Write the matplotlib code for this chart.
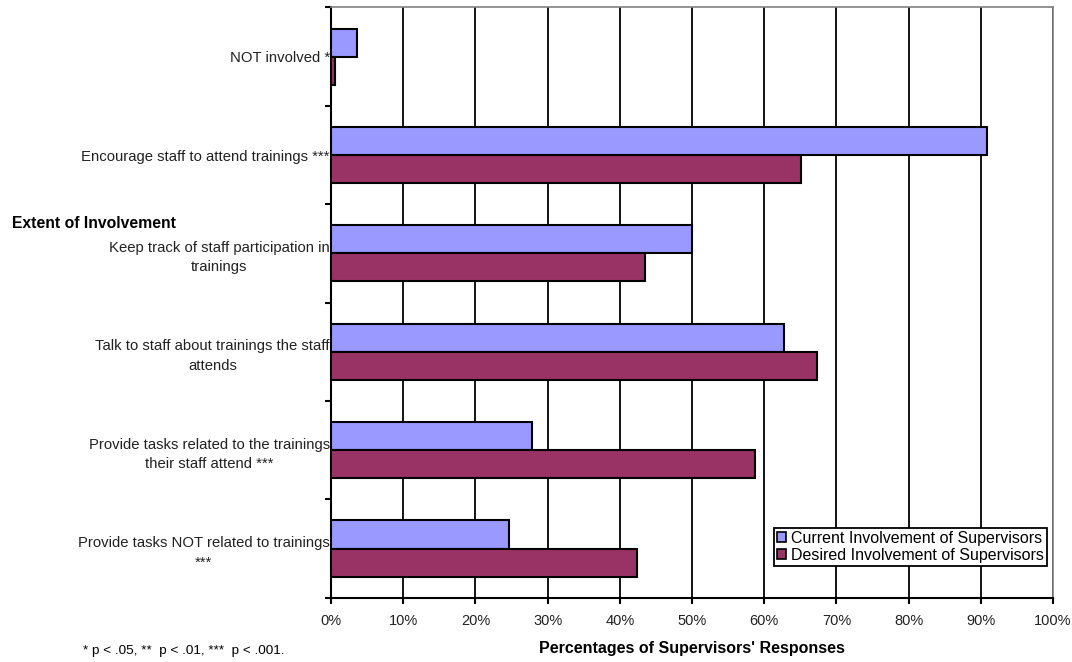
import numpy as np
import matplotlib
matplotlib.use("Agg")
from matplotlib import pyplot as plt
from matplotlib.patches import Patch

# data (top to bottom)
categories = [
    "NOT involved *",
    "Encourage staff to attend trainings ***",
    "Keep track of staff participation in\ntrainings",
    "Talk to staff about trainings the staff\nattends",
    "Provide tasks related to the trainings\ntheir staff attend ***",
    "Provide tasks NOT related to trainings\n***",
]
current = [3.6, 90.8, 50.0, 62.8, 27.9, 24.7]
desired = [0.5, 65.1, 43.5, 67.3, 58.7, 42.4]
series_names = ["Current Involvement of Supervisors",
                "Desired Involvement of Supervisors"]
xticks = np.arange(0, 101, 10)

SANS = ["Liberation Sans", "DejaVu Sans"]
BLUE = "#9999FF"
PLUM = "#993366"

fig = plt.figure(figsize=(10.72, 6.62), dpi=100)
ax = fig.add_axes([0.3088, 0.0971, 0.6735, 0.8916])

y = np.arange(len(categories))
h = 0.285
ax.barh(y - h / 2, current, height=h, color=BLUE, edgecolor="black",
        linewidth=1.5, zorder=3)
ax.barh(y + h / 2, desired, height=h, color=PLUM, edgecolor="black",
        linewidth=1.5, zorder=3)

ax.set_xlim(0, 100)
ax.set_ylim(len(categories) - 0.5, -0.5)

ax.set_xticks(xticks)
ax.set_xticklabels([f"{v}%" for v in xticks], family=SANS, fontsize=10.5,
                   color="#222222")
ax.tick_params(axis="x", direction="out", length=4, width=1.5, pad=8)
ax.xaxis.grid(True, color="black", linewidth=1.3, zorder=0)
ax.set_axisbelow(True)

ax.set_yticks(y)
ax.set_yticklabels(categories, family=SANS, fontsize=10.7, color="#222222")
for lab in ax.get_yticklabels():
    lab.set_multialignment("center")
    lab.set_linespacing(1.5)
ax.tick_params(axis="y", which="major", length=0, pad=1)
ax.set_yticks(np.arange(-0.5, len(categories)), minor=True)
ax.tick_params(axis="y", which="minor", direction="out", length=4, width=1.5)

for side in ("left", "bottom"):
    ax.spines[side].set_color("black")
    ax.spines[side].set_linewidth(1.5)
for side in ("top", "right"):
    ax.spines[side].set_color("#808080")
    ax.spines[side].set_linewidth(1.2)

ax.set_xlabel("Percentages of Supervisors' Responses", family=SANS,
              fontsize=11.5, fontweight="bold", labelpad=9)

handles = [Patch(facecolor=BLUE, edgecolor="black", linewidth=1.2),
           Patch(facecolor=PLUM, edgecolor="black", linewidth=1.2)]
leg = ax.legend(handles, series_names, loc="lower right",
                bbox_to_anchor=(0.9917, 0.0537), borderaxespad=0,
                prop={"family": SANS, "size": 11.5}, fancybox=False,
                edgecolor="black", framealpha=1, handlelength=0.55,
                handleheight=0.55, handletextpad=0.3, borderpad=0.2,
                labelspacing=0.12)
leg.get_frame().set_linewidth(1.3)
leg.set_zorder(5)

fig.text(12 / 1072, 1 - 223 / 662, "Extent of Involvement", family=SANS,
         fontsize=11.3, fontweight="bold", va="center", ha="left")
fig.text(83 / 1072, 1 - 651 / 662, "* p < .05, **  p < .01, ***  p < .001.",
         family=SANS, fontsize=9.7, va="center", ha="left")

fig.savefig("out.png", dpi=100)
